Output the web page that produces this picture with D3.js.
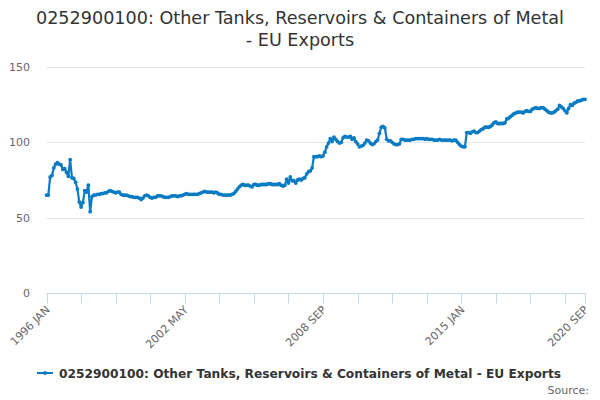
<!DOCTYPE html>
<html>
<head>
<meta charset="utf-8">
<script src="https://cdn.jsdelivr.net/npm/d3@7"></script>
<style>
  body { margin: 0; background: #fff; }
  svg { font-family: "DejaVu Sans", sans-serif; }
</style>
</head>
<body>
<svg id="viz"></svg>
<script>
var width = 600;
var height = 400;

var titleLines = ["0252900100: Other Tanks, Reservoirs & Containers of Metal", "- EU Exports"];
var seriesName = "0252900100: Other Tanks, Reservoirs & Containers of Metal - EU Exports";
var monthNames = ["JAN","FEB","MAR","APR","MAY","JUN","JUL","AUG","SEP","OCT","NOV","DEC"];
var startYear = 1996;
var yTicks = [0, 50, 100, 150];
var tickEvery = 19;

// monthly values, 1996 JAN .. 2020 SEP
var values = [
  65, 65, 77, 78, 83, 85.5, 86.5, 85.5, 85, 82,
  82.5, 80, 77.5, 88.5, 76.5, 76, 73.5, 69, 60.5, 57,
  60, 68, 67, 71.5, 54, 64, 65, 65, 65.5, 65.5,
  66, 66, 66.5, 66.5, 67.5, 68, 67.5, 67, 66.5, 67,
  67, 65.5, 65, 65, 65, 64.5, 64, 64, 63.5, 63.5,
  63.5, 63, 62, 63, 64.5, 65, 64.5, 63.5, 63, 63.5,
  63.5, 64.5, 64.5, 64.5, 64, 63.5, 63.5, 63.5, 64, 64.5,
  64.5, 64.5, 64, 64.5, 64.5, 65, 65.5, 66, 65.5, 65.5,
  65.5, 65.5, 65.5, 65.5, 66, 66.5, 67, 67.5, 67, 67,
  67, 67, 66.5, 67, 66.5, 65.5, 65.5, 65, 65, 65,
  65, 65, 65.5, 66, 67.5, 69, 70.5, 71.5, 72, 71.5,
  71.5, 71.5, 71, 70.5, 72, 72, 71.5, 71.5, 72, 72,
  72, 72, 72.5, 72.5, 72, 72, 72, 72, 72.5, 71.5,
  71, 71.5, 75.5, 73, 77, 74.5, 74.5, 73, 75, 75.5,
  75, 76, 76.5, 79, 80.5, 81, 83, 90.5, 90.5, 90.5,
  91, 90.5, 91, 93.5, 97, 99.5, 102.5, 100.5, 103.5, 102,
  100.5, 99.5, 100, 103, 104, 103.5, 103.5, 104, 102, 103,
  100.5, 99, 97, 97.5, 98, 99.5, 101.5, 101, 99.5, 98.5,
  99, 100.5, 101.5, 106, 110, 110.5, 109.5, 102, 101, 101,
  100, 99, 98.5, 98.5, 99, 102, 102, 101.5, 101.5, 101.5,
  101.5, 102, 102, 102.5, 102.5, 102.5, 102.5, 102.5, 102, 102.5,
  102, 102, 102, 101.5, 101.5, 101.5, 102, 101.5, 101.5, 101.5,
  101.5, 101.5, 101.5, 101, 101.5, 101.5, 100, 98.5, 97.5, 97,
  97, 106.5, 106.5, 106, 107, 107.5, 106.5, 106.5, 107.5, 108.5,
  109, 110, 110, 110, 110.5, 111.5, 113, 113.5, 112.5, 112.5,
  112.5, 112.5, 113, 115.5, 116, 117, 118, 119, 119.5, 120,
  120, 120, 119.5, 120.5, 121, 120.5, 120.5, 122, 122.5, 123,
  122.5, 122.5, 123, 123, 122, 121, 120, 119.5, 119.5, 120,
  121, 122, 124.5, 123.5, 122.5, 121, 119.5, 122.5, 125, 124.5,
  126, 126.5, 127.5, 127.5, 128, 128.5, 128.5
];

var labels = values.map(function(d, i) {
  return (startYear + Math.floor(i / 12)) + " " + monthNames[i % 12];
});

var margin = {left: 46.5, right: 15, top: 67, bottom: 107};

var svg = d3.select("#viz")
    .attr("width", width)
    .attr("height", height);

var x = d3.scaleLinear()
    .domain([0, values.length - 1])
    .range([margin.left, width - margin.right]);

var y = d3.scaleLinear()
    .domain([0, 150])
    .range([height - margin.bottom, margin.top]);

// title
svg.append("text")
    .attr("x", width / 2)
    .attr("text-anchor", "middle")
    .attr("fill", "#333333")
    .style("font-size", "17.6px")
    .selectAll("tspan")
    .data(titleLines)
    .enter().append("tspan")
    .attr("x", width / 2)
    .attr("y", function(d, i) { return 24 + i * 22; })
    .text(function(d) { return d; });

// grid + y labels
var yAxis = svg.append("g");
yAxis.selectAll("line")
    .data(yTicks.filter(function(d) { return d > 0; }))
    .enter().append("line")
    .attr("x1", margin.left)
    .attr("x2", width - margin.right)
    .attr("y1", function(d) { return Math.round(y(d)) + 0.5; })
    .attr("y2", function(d) { return Math.round(y(d)) + 0.5; })
    .attr("stroke", "#e6e6e6");

yAxis.selectAll("text")
    .data(yTicks)
    .enter().append("text")
    .attr("x", 30)
    .attr("y", function(d) { return y(d) + 4; })
    .attr("text-anchor", "end")
    .attr("fill", "#666666")
    .style("font-size", "11px")
    .text(function(d) { return d; });

// x axis
var tickIdx = d3.range(0, values.length, tickEvery);
if (tickIdx[tickIdx.length - 1] !== values.length - 1) tickIdx.push(values.length - 1);
var labelIdx = tickIdx.filter(function(d, i) { return i % 4 === 0 || d === values.length - 1; });

var xAxis = svg.append("g");
var y0 = Math.round(y(0)) + 0.5;
xAxis.append("line")
    .attr("x1", margin.left)
    .attr("x2", width - margin.right)
    .attr("y1", y0)
    .attr("y2", y0)
    .attr("stroke", "#ccd6eb");

xAxis.selectAll(".tick")
    .data(tickIdx)
    .enter().append("line")
    .attr("class", "tick")
    .attr("x1", function(d) { return Math.round(x(d)) + 0.5; })
    .attr("x2", function(d) { return Math.round(x(d)) + 0.5; })
    .attr("y1", y0)
    .attr("y2", y0 + 10)
    .attr("stroke", "#ccd6eb");

xAxis.selectAll(".lbl")
    .data(labelIdx)
    .enter().append("text")
    .attr("class", "lbl")
    .attr("text-anchor", "end")
    .attr("fill", "#666666")
    .style("font-size", "11px")
    .attr("transform", function(d) {
        return "translate(" + (x(d) + 4) + "," + (y0 + 17) + ") rotate(-45)";
    })
    .text(function(d) { return labels[d]; });

// series
var lineColor = "#0b7bc2";
var line = d3.line()
    .x(function(d, i) { return x(i); })
    .y(function(d) { return y(d); });

svg.append("path")
    .datum(values)
    .attr("d", line)
    .attr("fill", "none")
    .attr("stroke", lineColor)
    .attr("stroke-width", 2.2)
    .attr("stroke-linejoin", "round");

svg.append("g").selectAll("circle")
    .data(values)
    .enter().append("circle")
    .attr("cx", function(d, i) { return x(i); })
    .attr("cy", function(d) { return y(d); })
    .attr("r", 1.9)
    .attr("fill", lineColor);

// legend
var legend = svg.append("g").attr("transform", "translate(0,373)");
legend.append("line")
    .attr("x1", 37).attr("x2", 53)
    .attr("stroke", lineColor)
    .attr("stroke-width", 2);
legend.append("circle")
    .attr("cx", 45).attr("r", 2)
    .attr("fill", lineColor);
legend.append("text")
    .attr("x", 59)
    .attr("y", 4.5)
    .attr("fill", "#333333")
    .style("font-size", "12.2px")
    .style("font-weight", "bold")
    .attr("textLength", 502)
    .attr("lengthAdjust", "spacingAndGlyphs")
    .text(seriesName);

svg.append("text")
    .attr("x", 589)
    .attr("y", 394)
    .attr("text-anchor", "end")
    .attr("fill", "#666666")
    .style("font-size", "11px")
    .text("Source:");
</script>
</body>
</html>
